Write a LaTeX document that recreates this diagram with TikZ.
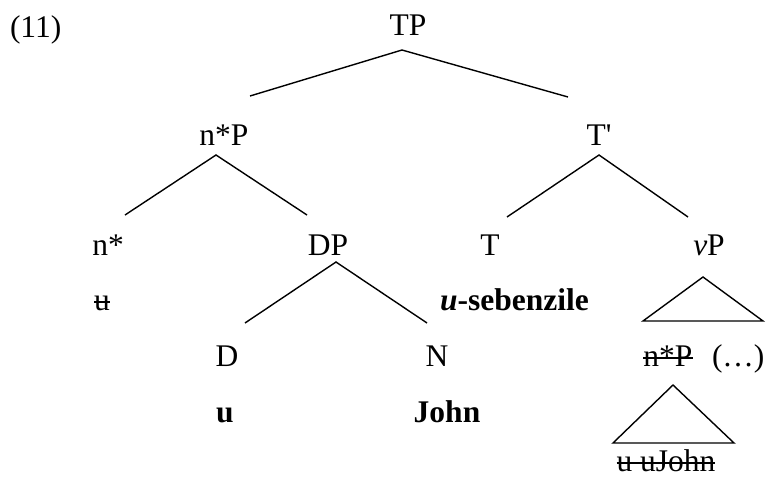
\documentclass[tikz,border=0pt]{standalone}
\usepackage{fontspec}
\setmainfont{Liberation Serif}
\newfontfamily\rawserif{Liberation Serif}
\begin{document}
\begin{tikzpicture}[x=1pt,y=-1pt,
  lbl/.style={inner sep=0pt,outer sep=0pt,anchor=base,font=\fontsize{31.5}{36}\selectfont},
  edge/.style={line width=1.4pt},
  strike/.style={line width=1.4pt}]
\useasboundingbox (0,0) rectangle (768,479);
% labels
\node[lbl,anchor=base west] (ex) at (10,37) {(11)};
\node[lbl] (tp) at (408,35) {TP};
\node[lbl] (nsp) at (224,145) {n*P};
\node[lbl] (tbar) at (599,145) {{\rawserif T'}};
\node[lbl] (ns) at (108,255) {n*};
\node[lbl] (dp) at (328,255) {DP};
\node[lbl] (t) at (490,255) {T};
\node[lbl] (vp) at (709,255) {\textit{v}P};
\node[lbl] (us) at (102,310) {u};
\node[lbl,anchor=base west] (seb) at (440,310) {\textbf{\textit{u}-sebenzile}};
\node[lbl] (d) at (227,366) {D};
\node[lbl] (n) at (437,366) {N};
\node[lbl] (nspl) at (668,366) {n*P};
\node[lbl,anchor=base west] (dots) at (712,366) {(\ldots)};
\node[lbl] (ub) at (225,422) {\textbf{u}};
\node[lbl] (john) at (447,422) {\textbf{John}};
\node[lbl] (uuj) at (666,471) {u uJohn};
% strikes
\draw[strike] ([yshift=8pt]us.base west) -- ([yshift=8pt]us.base east);
\draw[strike] ([yshift=8pt]nspl.base west) -- ([yshift=8pt]nspl.base east);
\draw[strike] ([yshift=8pt]uuj.base west) -- ([yshift=8pt]uuj.base east);
% tree edges
\draw[edge] ([shift={(26,-49)}]nsp.base) -- ([shift={(-6,15)}]tp.base) -- ([shift={(-31,-48)}]tbar.base);
\draw[edge] ([shift={(17,-40)}]ns.base) -- ([shift={(-8,10)}]nsp.base) -- ([shift={(-21,-40)}]dp.base);
\draw[edge] ([shift={(17,-38)}]t.base) -- ([shift={(0,10)}]tbar.base) -- ([shift={(-21,-38)}]vp.base);
\draw[edge] ([shift={(18,-43)}]d.base) -- ([shift={(8,7)}]dp.base) -- ([shift={(-10,-43)}]n.base);
% triangles
\draw[edge,line join=miter] ([shift={(-6,22)}]vp.base) -- ([shift={(-66,66)}]vp.base) -- ([shift={(54,66)}]vp.base) -- cycle;
\draw[edge,line join=miter] ([shift={(5,19)}]nspl.base) -- ([shift={(-55,77)}]nspl.base) -- ([shift={(66,77)}]nspl.base) -- cycle;
\end{tikzpicture}
\end{document}
